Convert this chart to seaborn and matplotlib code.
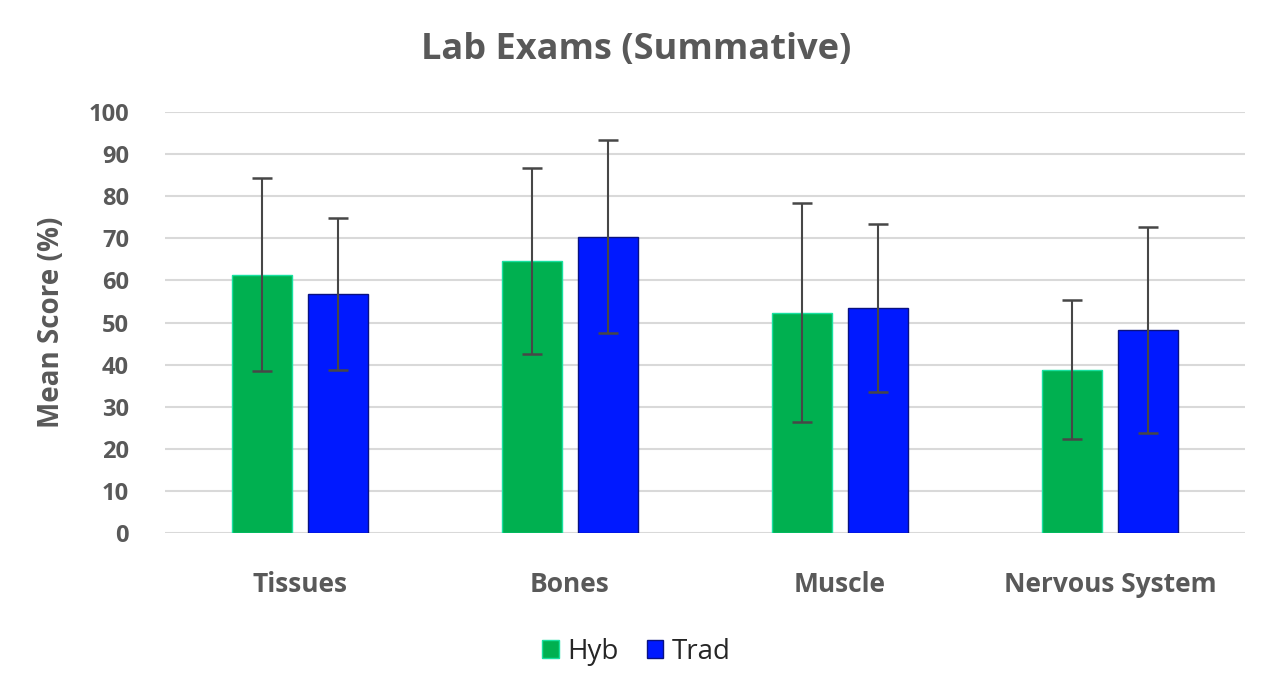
import matplotlib
matplotlib.use("Agg")
import matplotlib.pyplot as plt
import seaborn as sns
import pandas as pd

categories = ["Tissues", "Bones", "Muscle", "Nervous System"]
groups = ["Hyb", "Trad"]
hyb_mean = [61.4, 64.6, 52.3, 38.8]
trad_mean = [56.8, 70.4, 53.4, 48.3]
hyb_sd = [23.0, 22.0, 26.0, 16.5]
trad_sd = [18.0, 23.0, 20.0, 24.5]
yticks = [0, 10, 20, 30, 40, 50, 60, 70, 80, 90, 100]

df = pd.DataFrame({
    "topic": categories * 2,
    "group": ["Hyb"] * 4 + ["Trad"] * 4,
    "score": hyb_mean + trad_mean,
})
sds = {"Hyb": hyb_sd, "Trad": trad_sd}

sns.set_theme(style="white")
plt.rcParams["font.family"] = ["Open Sans", "DejaVu Sans"]
gray = "#595959"

fig = plt.figure(figsize=(12.73, 6.97), dpi=100)
ax = fig.add_axes([165 / 1273, 1 - 533 / 697, 1080 / 1273, 421 / 697])

colors = {"Hyb": "#00B050", "Trad": "#0019FF"}
sns.barplot(data=df, x="topic", y="score", hue="group", hue_order=groups,
            order=categories, palette=colors, width=0.57, gap=0.22,
            saturation=1, errorbar=None, ax=ax, legend=True, zorder=2)

edge = {"Hyb": "#19E0A0", "Trad": "#0A1280"}
for g, cont in zip(groups, ax.containers):
    for bar, sd in zip(cont, sds[g]):
        bar.set_edgecolor(edge[g])
        bar.set_linewidth(1.0)
        xc = bar.get_x() + bar.get_width() / 2
        ax.errorbar(xc, bar.get_height(), yerr=sd, fmt="none",
                    ecolor="#474747", elinewidth=1.5, capsize=7,
                    capthick=1.8, zorder=3)

ax.set_ylim(0, 100)
ax.set_yticks(yticks)
ax.set_xlim(-0.5, 3.5)
ax.yaxis.grid(True, color="#d9d9d9", linewidth=1.5, zorder=0)
ax.set_axisbelow(True)
for s in ax.spines.values():
    s.set_visible(False)
ax.tick_params(axis="y", length=0, pad=26, labelsize=17, labelcolor=gray)
ax.tick_params(axis="x", length=0, pad=27, labelcolor=gray)
for lbl in ax.get_yticklabels():
    lbl.set_fontweight("bold")
for lbl in ax.get_xticklabels():
    lbl.set_fontsize(19)
    lbl.set_fontweight("bold")
ax.set_xlabel("")
ax.set_ylabel("Mean Score (%)", fontsize=20, fontweight="bold",
              color=gray, labelpad=16)

fig.text(0.5, 1 - 50 / 697, "Lab Exams (Summative)", ha="center", va="center",
         fontsize=26, fontweight="bold", color=gray)

ax.legend_.remove()
handles = [plt.Rectangle((0, 0), 1, 1, facecolor=colors[g], edgecolor=edge[g]) for g in groups]
fig.legend(handles, groups, loc="center", bbox_to_anchor=(0.5, 1 - 652 / 697),
           ncol=2, frameon=False, fontsize=20, handlelength=0.6, handleheight=0.6,
           handletextpad=0.3, columnspacing=1.0, labelcolor="#262626")

fig.savefig("out.png", dpi=100)
